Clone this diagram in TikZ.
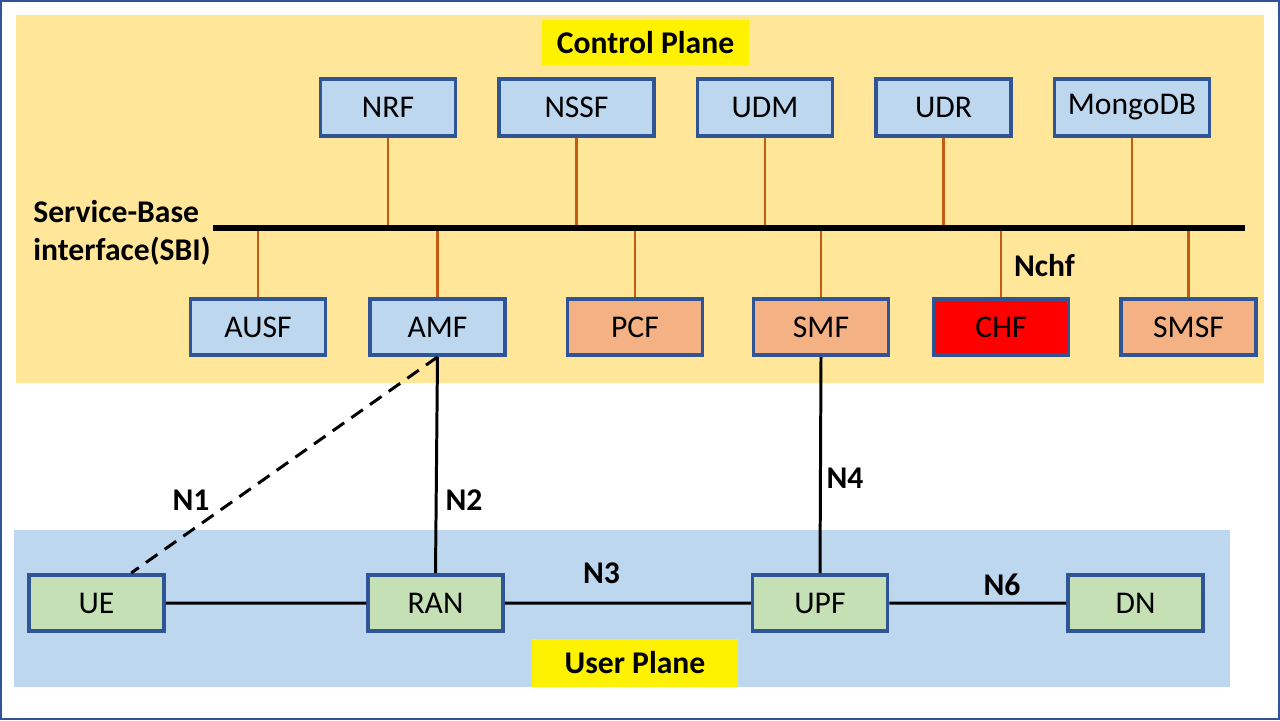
\documentclass[tikz,border=0pt]{standalone}
\usepackage{fontspec}
\setmainfont{Carlito}
\usetikzlibrary{calc,positioning}
\definecolor{cpbg}{HTML}{FFE699}
\definecolor{upbg}{HTML}{BDD7EE}
\definecolor{nfblue}{HTML}{BDD7EE}
\definecolor{nforange}{HTML}{F4B183}
\definecolor{nfgreen}{HTML}{C5E0B4}
\definecolor{nfedge}{HTML}{2F5597}
\definecolor{sbilink}{HTML}{C55A11}
\tikzstyle{nf} = [rectangle, minimum width=2.7cm, minimum height=1.13cm, text centered, draw=nfedge, line width=2pt, fill=nfblue, font=\fontsize{18}{21.5}\selectfont]
\tikzstyle{lbl} = [inner sep=0pt, font=\fontsize{18}{21.5}\selectfont\bfseries]
\tikzstyle{plane} = [lbl, fill=yellow, minimum width=4.13cm, minimum height=0.9cm]

\begin{document}
\begin{tikzpicture}[x=0.02cm, y=-0.02cm]
            \useasboundingbox (0,0) rectangle (1280,720);
            % planes
            \fill[cpbg] (16,15) rectangle (1264,383);
            \fill[upbg] (14,530) rectangle (1230,687);
            \draw[nfedge, line width=1.2pt] (1,1) rectangle (1279,719);

            \node[plane] (CP) at (645.5,42.5) {Control Plane};
            \node[plane, minimum height=0.96cm] (UP) at (635,663) {User Plane};

            % control plane functions
            \node[nf] (NRF) at (388,107.5) {NRF};
            \node[nf, minimum width=3.1cm] (NSSF) at (576.5,107.5) {NSSF};
            \node[nf] (UDM) at (765,107.5) {UDM};
            \node[nf] (UDR) at (943.5,107.5) {UDR};
            \node[nf, minimum width=3.1cm] (MongoDB) at (1132,107.5) {MongoDB};

            \node[nf] (AUSF) at (258,327) {AUSF};
            \node[nf] (AMF) at (437.5,327) {AMF};
            \node[nf, fill=nforange] (PCF) at (635,327) {PCF};
            \node[nf, fill=nforange] (SMF) at (821,327) {SMF};
            \node[nf, fill=red] (CHF) at (1001,327) {CHF};
            \node[nf, fill=nforange] (SMSF) at (1188.5,327) {SMSF};

            % user plane
            \node[nf, fill=nfgreen] (UE) at (96.5,603) {UE};
            \node[nf, fill=nfgreen] (RAN) at (435.5,603) {RAN};
            \node[nf, fill=nfgreen] (UPF) at (820,603) {UPF};
            \node[nf, fill=nfgreen] (DN) at (1135.5,603) {DN};

            % SBI bus
            \coordinate (sbiW) at (213,228);
            \coordinate (sbiE) at (1245,228);
            \node[lbl, align=left, anchor=north west] (SBI) at (33,200) {Service-Base\\interface(SBI)};
            \path
                [sbilink, draw, line width=1.5pt]
                (NRF.south) -- (NRF.south |- sbiW)
                (NSSF.south) -- (NSSF.south |- sbiW)
                (UDM.south) -- (UDM.south |- sbiW)
                (UDR.south) -- (UDR.south |- sbiW)
                (MongoDB.south) -- (MongoDB.south |- sbiW);
            \path
                [sbilink, draw, line width=1.5pt]
                (AUSF.north) -- (AUSF.north |- sbiW)
                (AMF.north) -- (AMF.north |- sbiW)
                (PCF.north) -- (PCF.north |- sbiW)
                (SMF.north) -- (SMF.north |- sbiW)
                (CHF.north) -- (CHF.north |- sbiW)
                (SMSF.north) -- (SMSF.north |- sbiW);
            \draw[black, line width=3.4pt] (sbiW) -- (sbiE);
            \node[lbl] (Nchf) at (1044.5,266) {Nchf};

            % reference points
            \path
                [black, draw, line width=1.7pt]
                (AMF.south) -- (RAN.north)
                (SMF.south) -- (UPF.north)
                (UE.east) -- (RAN.west)
                (RAN.east) -- (UPF.west)
                (UPF.east) -- (DN.west);
            \draw[black, line width=1.7pt, dash pattern=on 8pt off 5pt]
                (AMF.south) -- ($(UE.north west)!0.75!(UE.north east)$);

            \node[lbl] (N1) at (191,500) {N1};
            \node[lbl] (N2) at (464,500) {N2};
            \node[lbl] (N3) at (601.5,573) {N3};
            \node[lbl] (N4) at (845,478) {N4};
            \node[lbl] (N6) at (1002,585) {N6};
        \end{tikzpicture}
\end{document}
